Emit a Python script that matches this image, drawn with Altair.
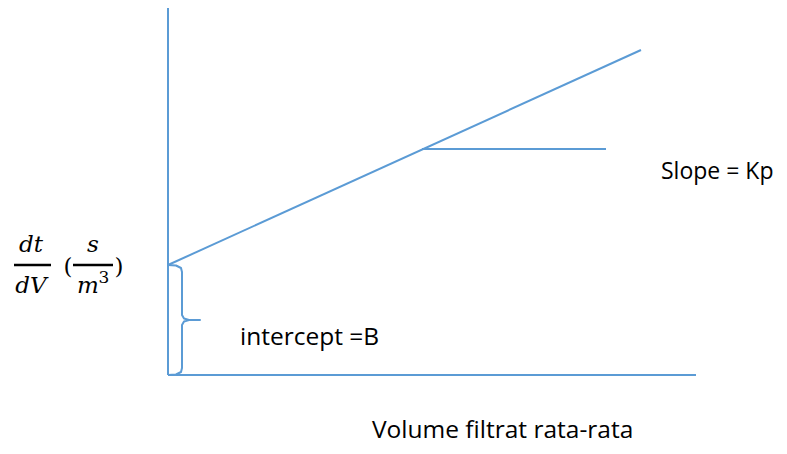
import altair as alt
import pandas as pd

# ---- diagram geometry (diagram units) ----
seg_name = ["y axis", "x axis", "regression line", "slope run"]
seg_x1 = [168, 168, 168, 422]
seg_y1 = [8, 375, 265, 149]
seg_x2 = [168, 696, 641, 606]
seg_y2 = [375, 375, 50, 149]

# curly brace marking the intercept
brace_x = [168, 176, 181, 182, 182, 184, 189, 200, 189, 184, 182, 182, 181, 176, 168]
brace_y = [265, 265.5, 268, 272, 315, 318.5, 320, 320, 320, 321.5, 325, 368, 372, 374.5, 375]

# plain text labels
label_text = ["Slope = Kp", "intercept =B", "Volume filtrat rata-rata"]
label_x = [661, 240, 372]
label_y = [179, 345, 438]
label_size = [23, 24.5, 24.5]

# y-axis label pieces: dt/dV (s/m^3)
math_text = ["dt", "dV", "s", "m"]
math_x = [31, 31, 93, 88]
math_y = [252, 293, 252, 293]
paren_text = ["(", ")"]
paren_x = [68, 119]
paren_y = [274, 274]
sup_text = ["3"]
sup_x = [104]
sup_y = [283]
bar_x1 = [14, 73]
bar_x2 = [51, 113]
bar_y = [265, 265]

BLUE = "#5B9BD5"
W, H = 771, 438
xs = alt.Scale(domain=[8, 8 + W], nice=False, zero=False)
ys = alt.Scale(domain=[8, 8 + H], nice=False, zero=False, reverse=True)

segs = pd.DataFrame({"name": seg_name, "x": seg_x1, "y": seg_y1, "x2": seg_x2, "y2": seg_y2})
brace = pd.DataFrame({"x": brace_x, "y": brace_y, "i": list(range(len(brace_x)))})
labels = pd.DataFrame({"t": label_text, "x": label_x, "y": label_y, "s": label_size})
math = pd.DataFrame({"t": math_text, "x": math_x, "y": math_y})
paren = pd.DataFrame({"t": paren_text, "x": paren_x, "y": paren_y})
sup = pd.DataFrame({"t": sup_text, "x": sup_x, "y": sup_y})
bars = pd.DataFrame({"x": bar_x1, "x2": bar_x2, "y": bar_y})

X = lambda f: alt.X(f, type="quantitative", scale=xs, axis=None)
Y = lambda f: alt.Y(f, type="quantitative", scale=ys, axis=None)

seg_layer = alt.Chart(segs).mark_rule(color=BLUE, strokeWidth=2).encode(
    x=X("x"), y=Y("y"), x2="x2", y2="y2")

brace_layer = alt.Chart(brace).mark_line(color=BLUE, strokeWidth=2, strokeJoin="round").encode(
    x=X("x"), y=Y("y"), order="i:Q")

label_layer = alt.Chart(labels).mark_text(
    font="Open Sans", align="left", baseline="alphabetic", color="black").encode(
    x=X("x"), y=Y("y"), text="t:N",
    size=alt.Size("s:Q", scale=None, legend=None))

math_layer = alt.Chart(math).mark_text(
    font="DejaVu Serif", fontStyle="italic", fontSize=23, align="center",
    baseline="alphabetic", color="black").encode(x=X("x"), y=Y("y"), text="t:N")

paren_layer = alt.Chart(paren).mark_text(
    font="DejaVu Serif", fontSize=23, align="center", baseline="alphabetic",
    color="black").encode(x=X("x"), y=Y("y"), text="t:N")

sup_layer = alt.Chart(sup).mark_text(
    font="DejaVu Serif", fontSize=17, align="center", baseline="alphabetic",
    color="black").encode(x=X("x"), y=Y("y"), text="t:N")

bar_layer = alt.Chart(bars).mark_rule(color="black", strokeWidth=2.5).encode(
    x=X("x"), x2="x2", y=Y("y"))

chart = alt.layer(seg_layer, brace_layer, label_layer, math_layer, paren_layer,
                  sup_layer, bar_layer).properties(
    width=W, height=H, padding=0, autosize=alt.AutoSizeParams(type="none"),
    background="white"
).configure_view(stroke=None)

chart.save("out.html", embed_options={"renderer": "svg", "actions": False})
